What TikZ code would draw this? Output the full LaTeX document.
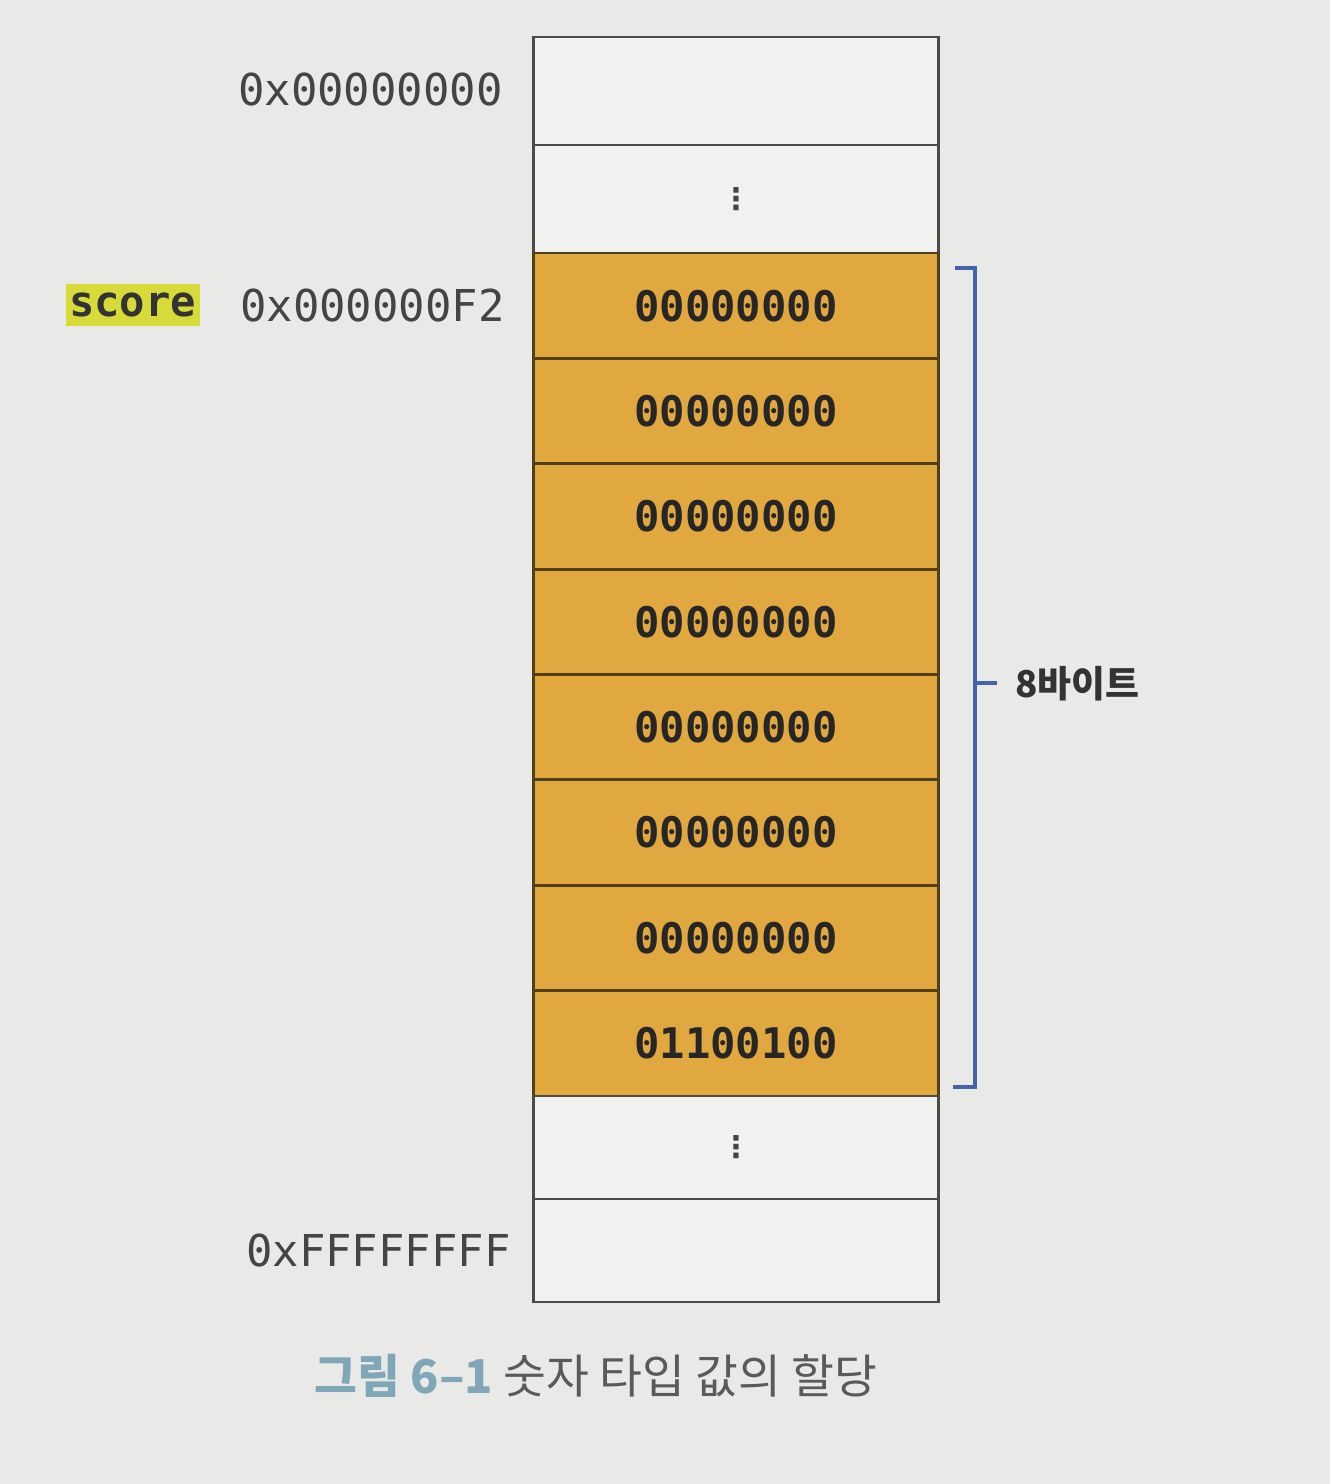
\documentclass[tikz,border=0pt]{standalone}
\usepackage{fontspec}
\setmonofont{DejaVu Sans Mono}
\newfontfamily\krfont{Noto Sans CJK KR}
\newfontfamily\symfont{DejaVu Sans}
\definecolor{bgc}{HTML}{E9EAE8}
\definecolor{goldc}{HTML}{E0A83F}
\definecolor{edgec}{HTML}{4A4A48}
\definecolor{goldedge}{HTML}{4F3F1A}
\definecolor{addrc}{HTML}{444444}
\definecolor{bracec}{HTML}{4563A8}
\definecolor{hlc}{HTML}{D6DB3A}
\definecolor{capblue}{HTML}{7FA7B7}
\definecolor{capgray}{HTML}{5A5A5A}
\begin{document}
\begin{tikzpicture}[x=0.02cm,y=-0.02cm,
  cell/.style={draw=edgec,line width=1.6pt,fill=white!35!bgc,minimum width=8.1cm,minimum height=2.16cm,inner sep=0pt,outer sep=0pt},
  gcell/.style={cell,minimum height=2.1075cm,fill=goldc,draw=goldedge,font=\ttfamily\bfseries\fontsize{24}{24}\selectfont,text=black!85},
  lcell/.style={cell,minimum height=2.06cm},
  addr/.style={anchor=east,inner sep=0pt,font=\ttfamily\fontsize{25}{25}\selectfont,text=addrc},
  vdots/.style={font=\symfont\bfseries\fontsize{17}{17}\selectfont,text=addrc,inner sep=0pt}]
\useasboundingbox (0,0) rectangle (1330,1484);
\fill[bgc] (0,0) rectangle (1330,1484);
% memory cells
\node[cell] (c1) at (736,91) {};
\node[cell] (c2) at (736,199) {};
\node[gcell] (g1) at (736,305.7) {00000000};
\node[gcell] (g2) at (736,411.1) {00000000};
\node[gcell] (g3) at (736,516.4) {00000000};
\node[gcell] (g4) at (736,621.8) {00000000};
\node[gcell] (g5) at (736,727.2) {00000000};
\node[gcell] (g6) at (736,832.6) {00000000};
\node[gcell] (g7) at (736,937.9) {00000000};
\node[gcell] (g8) at (736,1043.3) {01100100};
\node[lcell] (c11) at (736,1147.5) {};
\node[lcell] (c12) at (736,1250.5) {};
\node[vdots] (d1) at (c2.center) {⋮};
\node[vdots] (d2) at (c11.center) {⋮};
% addresses
\node[addr] (a1) at (503,90) {0x00000000};
\node[addr] (a2) at (505,306) {0x000000F2};
\node[addr] (a3) at (511,1250) {0xFFFFFFFF};
\node[anchor=east,fill=hlc,inner xsep=2pt,inner ysep=5pt,font=\ttfamily\bfseries\fontsize{24}{24}\selectfont,text=black!80] (sc) at (200,305) {score};
% brace
\coordinate (bt) at (955,268);
\coordinate (bb) at (953,1087);
\draw[bracec,line width=1.8pt] (bt) -- (975,268) -- (975,1087) -- (bb);
\coordinate (bm) at (975,683);
\coordinate (bmt) at (997,683);
\draw[bracec,line width=1.8pt] (bm) -- (bmt);
\node[anchor=west,inner sep=0pt,font=\krfont\bfseries\fontsize{21}{21}\selectfont,text=black!80] (lb) at (1015,684) {8바이트};
% caption
\node[inner sep=0pt,font=\krfont\fontsize{26.5}{26.5}\selectfont] (cap) at (596,1376) {{\bfseries\color{capblue}그림 6–1} {\color{capgray}숫자 타입 값의 할당}};
\end{tikzpicture}
\end{document}
